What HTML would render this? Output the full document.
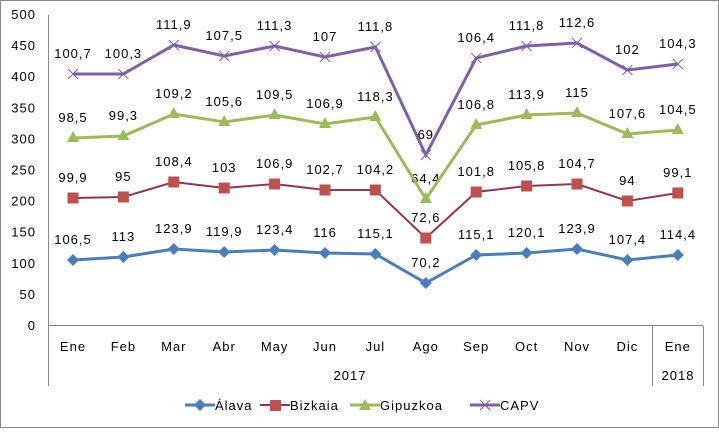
<!DOCTYPE html><html><head><style>body{margin:0;background:#fff}svg text{font-family:"Liberation Sans",sans-serif;font-size:13px;fill:#000;letter-spacing:1px}</style></head><body>
<svg width="719" height="428" xmlns="http://www.w3.org/2000/svg">
<rect x="0.5" y="0.5" width="718" height="427" fill="#fff" stroke="#888"/>
<g stroke="#888" stroke-width="1"><line x1="48.5" y1="15" x2="48.5" y2="386"/><line x1="48" y1="325.5" x2="703" y2="325.5"/><line x1="652.5" y1="326" x2="652.5" y2="386"/><line x1="703.5" y1="326" x2="703.5" y2="386"/></g>
<g text-anchor="end" id="yl"></g>
<g text-anchor="middle" id="labels"></g>
<g id="series"></g>
<g text-anchor="middle"><text x="350" y="380">2017</text><text x="678" y="380">2018</text></g>
<g font-size="13">
<line x1="185" y1="405" x2="215" y2="405" stroke="#4a7ebb" stroke-width="3"/><path d="M200 399l6 6-6 6-6-6z" fill="#4a7ebb"/><text x="215" y="410">Álava</text>
<line x1="260" y1="405" x2="290" y2="405" stroke="#953553" stroke-width="2"/><rect x="270" y="400" width="11" height="11" fill="#c0504d"/><text x="290" y="410">Bizkaia</text>
<line x1="350" y1="405" x2="380" y2="405" stroke="#9bbb59" stroke-width="3"/><path d="M365 399l6 11h-12z" fill="#9bbb59"/><text x="380" y="410">Gipuzkoa</text>
<line x1="470" y1="405" x2="500" y2="405" stroke="#7f5fa8" stroke-width="3"/><path d="M480 400l10 10M490 400l-10 10" stroke="#7f5fa8"/><text x="500" y="410">CAPV</text>
</g>
</svg>
<script>
const ns="http://www.w3.org/2000/svg";
function el(t,a,p){const e=document.createElementNS(ns,t);for(const k in a)e.setAttribute(k,a[k]);p.appendChild(e);return e}
const yl=document.getElementById('yl');
for(let v=0;v<=500;v+=50){const y=325-v*0.622;const t=el('text',{x:36,y:y+5},yl);t.textContent=v;}
const xs=[...Array(13).keys()].map(i=>73+i*50.4);
const cats=["Ene","Feb","Mar","Abr","May","Jun","Jul","Ago","Sep","Oct","Nov","Dic","Ene"];
const lab=document.getElementById('labels');
cats.forEach((c,i)=>{const t=el('text',{x:xs[i],y:351},lab);t.textContent=c;});
const S=[
{c:"#4a7ebb",w:3,m:"d",y:[260,257,249,252,250,253,254,283,255,253,249,260,255],l:["106,5","113","123,9","119,9","123,4","116","115,1","70,2","115,1","120,1","123,9","107,4","114,4"]},
{c:"#953553",w:2,m:"s",y:[198,197,182,188,184,190,190,238,192,186,184,201,193],l:["99,9","95","108,4","103","106,9","102,7","104,2","72,6","101,8","105,8","104,7","94","99,1"]},
{c:"#9bbb59",w:3,m:"t",y:[138,136,114,122,115,124,117,199,125,115,113,134,130],l:["98,5","99,3","109,2","105,6","109,5","106,9","118,3","64,4","106,8","113,9","115","107,6","104,5"]},
{c:"#7f5fa8",w:3,m:"x",y:[74,74,45,56,46,57,47,155,58,46,43,70,64],l:["100,7","100,3","111,9","107,5","111,3","107","111,8","69","106,4","111,8","112,6","102","104,3"]}];
const sg=document.getElementById('series');
S.forEach(s=>{el('polyline',{points:s.y.map((y,i)=>xs[i]+","+y).join(" "),fill:"none",stroke:s.c,"stroke-width":s.w},sg);
s.y.forEach((y,i)=>{const x=xs[i];
if(s.m=="d")el('path',{d:`M${x} ${y-6}l6 6-6 6-6-6z`,fill:s.c},sg);
if(s.m=="s")el('rect',{x:x-5.5,y:y-5.5,width:11,height:11,fill:"#c0504d"},sg);
if(s.m=="t")el('path',{d:`M${x} ${y-7}l6 11h-12z`,fill:s.c},sg);
if(s.m=="x")el('path',{d:`M${x-5} ${y-5}l10 10M${x+5} ${y-5}l-10 10`,stroke:s.c,"stroke-width":1},sg);
const t=el('text',{x:x,y:y-16},lab);t.textContent=s.l[i];});});
</script>
</body></html>
